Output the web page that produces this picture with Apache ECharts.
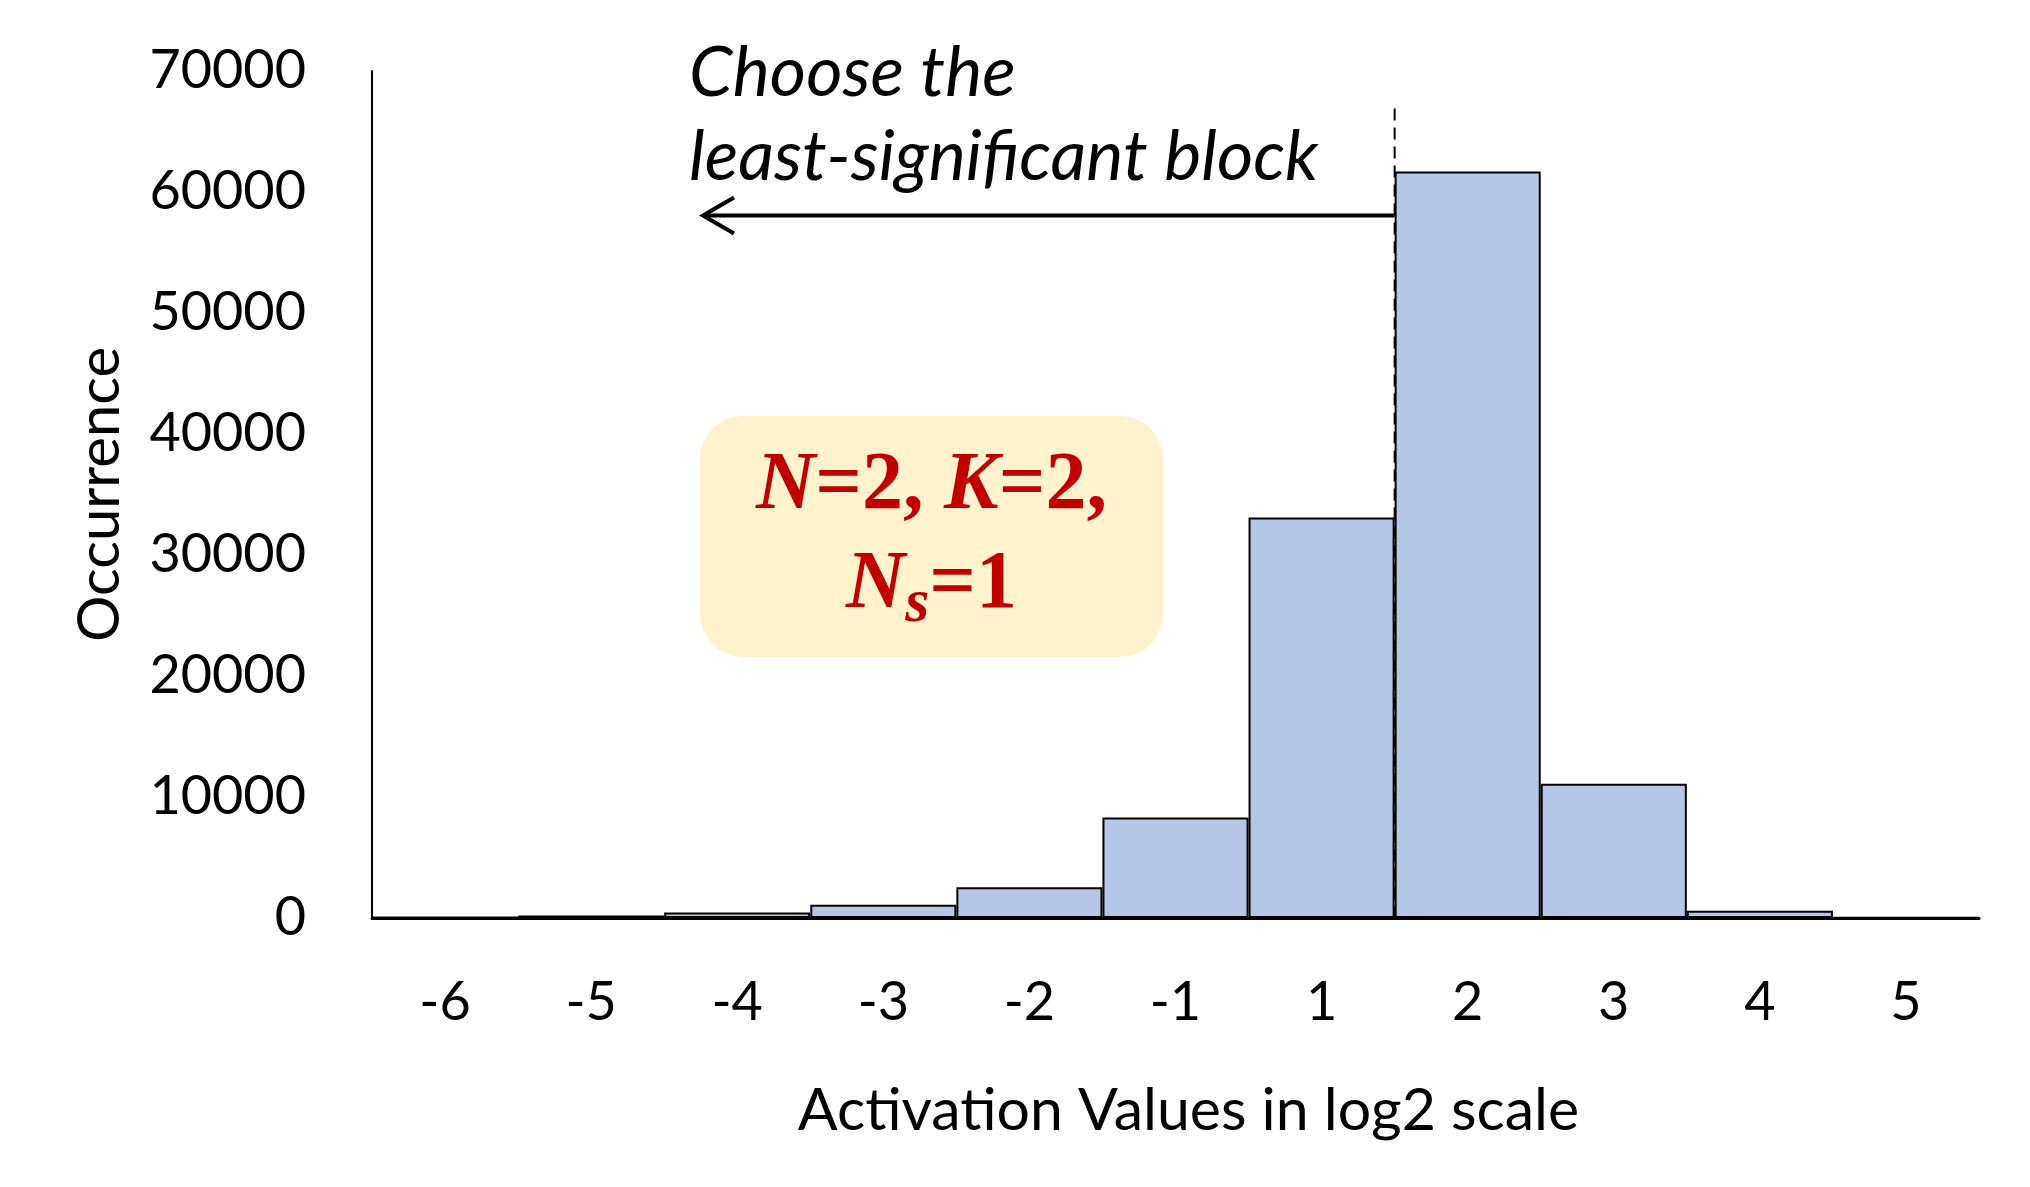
<!DOCTYPE html>
<html><head><meta charset="utf-8">
<script src="https://cdn.jsdelivr.net/npm/echarts@6/dist/echarts.min.js"></script>
<style>html,body{margin:0;padding:0;background:#fff}#c{width:2030px;height:1187px}</style>
</head><body><div id="c"></div>
<script>
// ---- data ----
const categories = ['-6', '-5', '-4', '-3', '-2', '-1', '1', '2', '3', '4', '5'];
const occurrences = [100, 200, 450, 1100, 2550, 8300, 33100, 61700, 11100, 600, 50];
const yMin = 0, yMax = 70000, yStep = 10000;
const xTitle = 'Activation Values in log2 scale';
const yTitle = 'Occurrence';
const noteLines = ['Choose the', 'least-significant block'];

const chart = echarts.init(document.getElementById('c'), null, {renderer: 'canvas'});
const baseFont = 'Lato, "Open Sans", sans-serif';

chart.setOption({
  animation: false,
  backgroundColor: '#ffffff',
  grid: {left: 372, right: 51, top: 71, bottom: 269, containLabel: false},
  xAxis: {
    type: 'category', data: categories, boundaryGap: true,
    axisLine: {lineStyle: {color: '#000', width: 3}},
    axisTick: {show: false},
    axisLabel: {color: '#000', fontSize: 54, fontFamily: baseFont, margin: 58},
    name: xTitle, nameLocation: 'middle', nameGap: 163,
    nameTextStyle: {color: '#000', fontSize: 59, fontFamily: baseFont, padding: [0, 0, 0, 26]}
  },
  yAxis: {
    type: 'value', min: yMin, max: yMax, interval: yStep,
    axisLine: {show: true, lineStyle: {color: '#000', width: 2}},
    axisTick: {show: false},
    splitLine: {show: false},
    axisLabel: {color: '#000', fontSize: 54, fontFamily: baseFont, margin: 66,
                formatter: function (v) { return String(v); }},
    name: yTitle, nameLocation: 'middle', nameGap: 243, nameRotate: 90,
    nameTextStyle: {color: '#000', fontSize: 58, fontFamily: baseFont}
  },
  series: [{
    type: 'bar', data: occurrences, barWidth: '100%', barCategoryGap: '0%',
    itemStyle: {color: '#B4C7E7', borderColor: '#000', borderWidth: 2}
  }]
});

function px(pos, val) {
  const a = chart.convertToPixel({xAxisIndex: 0, yAxisIndex: 0}, [0, val]);
  const b = chart.convertToPixel({xAxisIndex: 0, yAxisIndex: 0}, [1, val]);
  return [a[0] + pos * (b[0] - a[0]), a[1]];
}

const dashTop = px(6.5, 66900);
const dashBot = px(6.5, 0);
const arrR = px(6.5, 58050);
const arrL = px(1.752, 58050);
const boxTL = px(1.745, 41490);
const boxBR = px(4.914, 21570);
const t1 = px(1.670, 69830);
const t2 = px(1.670, 62890);
const noteFont = 'italic 70px Lato, "Open Sans", sans-serif';
const serif = '"Liberation Serif", "Times New Roman", serif';

chart.setOption({
  graphic: [
    {type: 'line', z: 100, shape: {x1: dashTop[0], y1: dashTop[1], x2: dashBot[0], y2: dashBot[1]},
     style: {stroke: '#000', lineWidth: 2, lineDash: [12, 7]}},
    {type: 'line', z: 100, shape: {x1: arrR[0], y1: arrR[1], x2: arrL[0] + 2, y2: arrL[1]},
     style: {stroke: '#000', lineWidth: 4}},
    {type: 'polyline', z: 100, shape: {points: [[arrL[0] + 33, arrL[1] - 18], [arrL[0] + 2, arrL[1]], [arrL[0] + 33, arrL[1] + 18]]},
     style: {stroke: '#000', lineWidth: 4, fill: null}},
    {type: 'text', z: 100, x: t1[0], y: t1[1],
     style: {text: noteLines[0], fill: '#000', font: noteFont, verticalAlign: 'middle', align: 'left'}},
    {type: 'text', z: 100, x: t2[0], y: t2[1],
     style: {text: noteLines[1], fill: '#000', font: noteFont, verticalAlign: 'middle', align: 'left'}},
    {type: 'rect', z: 90, shape: {x: boxTL[0], y: boxTL[1], width: boxBR[0] - boxTL[0], height: boxBR[1] - boxTL[1], r: 43},
     style: {fill: '#FFF2CC'}},
    {type: 'text', z: 100, x: (boxTL[0] + boxBR[0]) / 2, y: (boxTL[1] + boxBR[1]) / 2,
     style: {
       text: '{i|N}{b|=2, }{i|K}{b|=2,}\n{i|N}{s|s}{b|=1}',
       align: 'center', verticalAlign: 'middle', lineHeight: 99,
       rich: {
         i: {fontFamily: serif, fontStyle: 'italic', fontWeight: 'bold', fontSize: 82, fill: '#C00000', lineHeight: 99},
         b: {fontFamily: serif, fontWeight: 'bold', fontSize: 82, fill: '#C00000', lineHeight: 99},
         s: {fontFamily: serif, fontStyle: 'italic', fontWeight: 'bold', fontSize: 62, fill: '#C00000', lineHeight: 28, verticalAlign: 'bottom'}
       }
     }}
  ]
});
</script></body></html>
